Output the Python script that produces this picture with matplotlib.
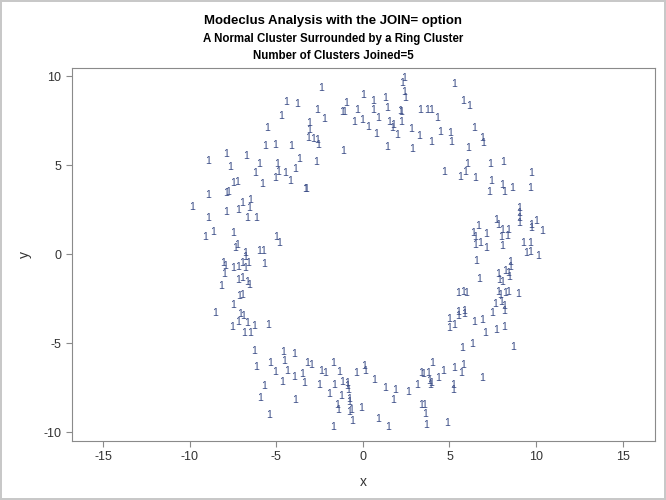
import numpy as np
import matplotlib.pyplot as plt

# ring points (x, y), grouped by region
top_x = [-2.43, 2.37, 2.25, 2.37, 2.43, 0.0, 0.58, 1.27, -0.98, -1.21, -1.10, -2.66, -2.25,
         -0.35, 0.58, 1.39, 2.14, 2.20, 3.29, 3.70, -0.52, -0.06, 0.29, 0.87, 1.50, 1.73, 1.68,
         1.97, 2.20, 0.75, 2.77, 3.24, -3.12, -3.12, -3.18, -2.89, -2.66, -2.60, -1.16, 1.39,
         2.83, -2.72]
top_y = [9.33, 9.89, 9.61, 9.10, 8.76, 8.93, 8.60, 8.76, 8.48, 7.98, 7.98, 8.09, 7.58,
         8.09, 8.09, 8.20, 8.03, 7.98, 8.09, 8.09, 7.42, 7.53, 7.13, 7.64, 7.42, 7.25, 7.08,
         6.69, 7.42, 6.74, 7.02, 6.63, 7.36, 6.97, 6.52, 6.46, 6.40, 6.12, 5.79, 6.01,
         5.90, 5.17]

upleft_x = [-4.45, -3.82, -4.74, -5.55, -5.66, -5.09, -4.16, -8.96, -7.92, -6.76, -7.69,
            -6.01, -4.97, -3.70, -3.93, -6.24, -4.91, -4.51, -4.22, -5.09, -7.51, -7.28, -5.84]
upleft_y = [8.54, 8.43, 7.75, 7.08, 6.07, 6.12, 6.07, 5.22, 5.62, 5.51, 4.89,
            5.06, 5.06, 5.34, 4.78, 4.55, 4.61, 4.55, 4.10, 4.27, 3.99, 4.04, 3.93]

upright_x = [5.26, 5.78, 6.13, 3.93, 4.28, 4.45, 5.03, 5.09, 3.93, 6.42, 6.88, 6.94, 6.07,
             6.01, 7.34, 8.09, 4.68, 5.61, 5.90, 6.47, 7.40, 8.03, 8.61, 9.71, 9.65]
upright_y = [9.55, 8.60, 8.31, 8.09, 7.64, 6.85, 6.80, 6.29, 6.29, 7.08, 6.52, 6.24, 5.96,
             5.06, 5.06, 5.17, 4.61, 4.33, 4.61, 4.27, 4.10, 3.88, 3.71, 4.55, 3.71]

left_x = [-9.83, -8.96, -7.92, -7.80, -3.35, -3.30, -6.99, -6.53, -6.59, -7.92, -7.23, -8.96,
          -6.71, -6.18, -9.13, -8.67, -7.51, -5.03, -4.86, -7.28, -7.40, -6.82, -6.82, -6.01,
          -5.78, -8.09, -7.98, -7.51, -7.23, -6.99, -6.65, -6.82, -5.72, -8.03, -7.23, -6.99,
          -6.71, -6.59, -8.21, -7.17, -6.99, -7.51, -8.55]
left_y = [2.64, 3.31, 3.43, 3.48, 3.65, 3.65, 2.87, 3.03, 2.58, 2.36, 2.47, 2.02,
          2.02, 2.02, 0.96, 1.24, 1.18, 0.96, 0.62, 0.51, 0.34, 0.06, -0.17, 0.17,
          0.17, -0.51, -0.67, -0.79, -0.73, -0.51, -0.51, -0.79, -0.56, -1.12, -1.46, -1.35,
          -1.57, -1.74, -1.80, -2.36, -2.30, -2.87, -3.31]

right_x = [7.28, 8.15, 9.02, 9.02, 9.02, 9.02, 6.65, 6.36, 6.47, 7.11, 7.69, 7.80, 8.03, 7.98,
           8.38, 8.32, 9.71, 10.0, 9.71, 10.35, 6.47, 6.76, 7.11, 8.03, 9.25, 9.65, 9.42, 9.65,
           10.12, 6.53, 8.50, 8.50, 8.21, 8.38, 7.80, 7.86, 8.03, 8.44, 6.71, 5.49, 5.78, 5.95,
           7.80, 7.92, 8.21, 8.38, 8.96, 7.63, 7.98, 8.15, 5.49, 5.84, 7.46]
right_y = [3.48, 3.48, 2.58, 2.30, 2.02, 1.74, 1.57, 1.18, 0.96, 1.12, 1.91, 1.63, 1.35, 0.96,
           1.35, 1.01, 1.63, 1.85, 1.46, 1.29, 0.51, 0.62, 0.34, 0.45, 0.62, 0.62, 0.06, 0.11,
           -0.11, -0.39, -0.45, -0.73, -0.96, -1.07, -1.12, -1.46, -1.57, -1.29, -1.40, -2.19,
           -2.13, -2.19, -2.13, -2.30, -2.19, -2.13, -2.25, -2.81, -2.70, -2.92, -3.26, -3.20,
           -3.31]

lowleft_x = [-7.11, -6.94, -7.23, -6.71, -7.57, -6.88, -6.53, -6.30, -5.49, -6.30, -4.62,
             -3.99, -6.18, -5.38, -4.57, -3.24, -5.09, -4.39, -4.68, -3.99, -3.53, -3.41,
             -5.72, -5.95, -3.93, -5.43]
lowleft_y = [-3.37, -3.48, -3.82, -3.88, -4.10, -4.44, -4.44, -4.04, -3.99, -5.45, -5.51,
             -5.62, -6.35, -6.12, -6.01, -6.12, -6.63, -6.57, -7.19, -6.91, -6.74, -7.25,
             -7.42, -8.09, -8.20, -9.04]

bottom_x = [-3.01, -1.73, -2.43, -2.20, -1.39, -0.40, 0.06, 0.12, -2.54, -1.68, -1.21, -0.92,
            -0.92, -0.87, 0.64, -1.97, -1.27, -0.81, 1.27, 1.85, 2.60, 3.12, 3.35, 3.47, 3.82,
            -1.50, -1.45, -0.81, -0.69, -0.12, -0.81, 1.73, 3.35, 3.53, 3.58, -1.73, -0.64,
            0.87, 1.45, 3.64]
bottom_y = [-6.24, -6.12, -6.57, -6.69, -6.63, -6.69, -6.29, -6.57, -7.36, -7.36, -7.19, -7.25,
            -7.42, -7.64, -7.08, -7.87, -7.98, -8.15, -7.53, -7.64, -7.75, -7.36, -6.69, -6.74,
            -7.13, -8.48, -8.76, -8.88, -8.76, -8.65, -8.31, -8.20, -8.48, -8.48, -8.99, -9.72,
            -9.38, -9.27, -9.72, -9.61]

lowright_x = [4.97, 4.97, 5.26, 5.49, 5.84, 6.42, 6.88, 8.15, 7.05, 7.69, 8.15, 5.72, 6.30,
              8.67, 3.99, 3.76, 4.62, 5.26, 5.78, 5.66, 4.34, 3.93, 3.87, 6.88, 5.20, 5.20, 4.86]
lowright_y = [-3.65, -4.16, -3.99, -3.48, -3.37, -3.82, -3.71, -3.20, -4.44, -4.27, -4.10,
              -5.28, -5.06, -5.22, -6.12, -6.69, -6.57, -6.40, -6.24, -6.69, -6.97, -7.25,
              -7.36, -6.97, -7.36, -7.64, -9.49]

xs = top_x + upleft_x + upright_x + left_x + right_x + lowleft_x + bottom_x + lowright_x
ys = top_y + upleft_y + upright_y + left_y + right_y + lowleft_y + bottom_y + lowright_y

xticks = [-15, -10, -5, 0, 5, 10, 15]
yticks = [-10, -5, 0, 5, 10]

plt.rcParams['font.family'] = ['Liberation Sans', 'DejaVu Sans']
plt.rcParams['axes.unicode_minus'] = False

fig = plt.figure(figsize=(6.66, 5), dpi=100)
fig.patch.set_edgecolor('#c8c8c8')
fig.patch.set_linewidth(1.5)
ax = fig.add_axes([0.108, 0.118, 0.875, 0.746])

# each observation is drawn as its cluster id "1"
for x, y in zip(xs, ys):
    ax.text(x, y, '1', fontsize=7.5, color='#3a4c86', ha='center', va='center')

ax.set_xlim(-16.8, 16.85)
ax.set_ylim(-10.5, 10.45)
ax.set_xticks(xticks)
ax.set_yticks(yticks)
ax.tick_params(labelsize=9, colors='#333333', length=4, color='#8a8a8a')
for s in ax.spines.values():
    s.set_color('#8a8a8a')
ax.set_xlabel('x', fontsize=10, color='#333333', labelpad=8)
ax.set_ylabel('y', fontsize=10, color='#333333', labelpad=8)

fig.text(0.5, 0.958, 'Modeclus Analysis with the JOIN= option', ha='center', va='center',
         fontsize=9.5, fontweight='bold')
fig.text(0.5, 0.922, 'A Normal Cluster Surrounded by a Ring Cluster', ha='center', va='center',
         fontsize=8.3, fontweight='bold')
fig.text(0.5, 0.888, 'Number of Clusters Joined=5', ha='center', va='center',
         fontsize=8.3, fontweight='bold')

fig.savefig('out.png', dpi=100, edgecolor=fig.get_edgecolor())
